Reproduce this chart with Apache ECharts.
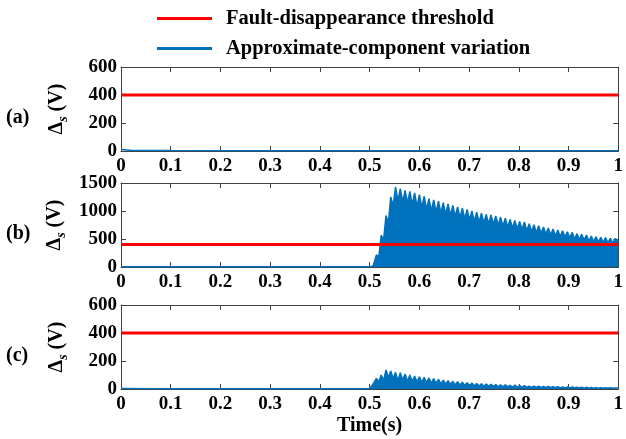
<!DOCTYPE html>
<html>
<head>
<meta charset="utf-8">
<script src="https://cdn.jsdelivr.net/npm/echarts@6/dist/echarts.min.js"></script>
<style>
  html, body { margin: 0; padding: 0; background: #fff; }
  #main { width: 626px; height: 439px; }
</style>
</head>
<body>
<div id="main"></div>
<script>
// legend names
const names = ['Fault-disappearance threshold', 'Approximate-component variation'];
const panelLabels = ['(a)', '(b)', '(c)'];
const threshold = 400;

// y axis ranges per panel [min, max, interval]
const yRanges = [[0, 600, 200], [0, 1500, 500], [0, 600, 200]];

// times of the oscillation peaks after the fault (s)
const peakTimes = [0.5137, 0.5233, 0.5329, 0.5425, 0.5521, 0.5617, 0.5713, 0.5809, 0.5905, 0.6001,
  0.6097, 0.6193, 0.6289, 0.6385, 0.6481, 0.6577, 0.6673, 0.6769, 0.6865, 0.6961,
  0.7057, 0.7153, 0.7249, 0.7345, 0.7441, 0.7537, 0.7633, 0.7729, 0.7825, 0.7921,
  0.8017, 0.8113, 0.8209, 0.8305, 0.8401, 0.8497, 0.8593, 0.8689, 0.8785, 0.8881,
  0.8977, 0.9073, 0.9169, 0.9265, 0.9361, 0.9457, 0.9553, 0.9649, 0.9745, 0.9841, 0.9937];

// (a) stays near zero
const aTimes = [0, 0.01, 0.02, 0.04, 0.1, 0.3, 0.5, 0.7, 1];
const aValues = [10, 8, 6, 4, 3, 2, 2, 2, 2];

// (b)
const bPreTimes = [0, 0.1, 0.3, 0.5, 0.507];
const bPreValues = [6, 4, 4, 4, 20];
const bPeaks = [216, 571, 920, 1251, 1429, 1399, 1370, 1352, 1322, 1293,
  1263, 1222, 1198, 1175, 1151, 1127, 1098, 1074, 1050, 1027,
  1003, 979, 961, 938, 930, 912, 891, 873, 849, 831,
  814, 802, 772, 754, 737, 713, 695, 678, 660, 648,
  630, 618, 595, 583, 571, 553, 541, 530, 524, 512, 506];
const bNotches = [180, 480, 790, 1090, 1180, 1160, 1140, 1110, 1080, 1060,
  1030, 1000, 980, 960, 940, 920, 900, 880, 860, 840,
  820, 800, 785, 770, 760, 745, 730, 710, 695, 680,
  670, 645, 630, 615, 600, 585, 570, 555, 545, 530,
  520, 500, 490, 480, 465, 455, 445, 440, 430, 425];
const bEnd = [1, 470];

// (c)
const cPreTimes = [0, 0.1, 0.3, 0.5, 0.507];
const cPreValues = [3, 2, 2, 2, 36];
const cPeaks = [76, 100, 136, 129, 119, 117, 107, 100, 93, 88,
  83, 79, 74, 69, 64, 60, 55, 52, 48, 45,
  43, 40, 38, 36, 33, 31, 29, 29, 26, 28,
  24, 24, 21, 21, 21, 19, 18, 17, 16, 15,
  14, 14, 13, 12, 12, 11, 10, 10, 9, 9, 8];
const cNotches = [50, 60, 80, 75, 60, 65, 55, 55, 50, 48,
  45, 42, 40, 37, 34, 32, 29, 27, 25, 24,
  22, 21, 20, 19, 17, 16, 15, 15, 14, 14,
  13, 12, 11, 11, 10, 10, 9, 9, 8, 8,
  7, 7, 7, 6, 6, 6, 5, 5, 5, 5];
const cEnd = [1, 8];

const FONT = 'Liberation Serif';
const BLUE = '#0072BD';
const RED = '#ff0000';
const AXIS = '#404040';

function buildWave(preT, preV, peaks, notches, end) {
  const pts = preT.map((t, i) => [t, preV[i]]);
  peaks.forEach((p, i) => {
    pts.push([peakTimes[i], p]);
    if (i < notches.length) pts.push([(peakTimes[i] + peakTimes[i + 1]) / 2, notches[i]]);
  });
  pts.push(end);
  return pts;
}

const blueData = [
  aTimes.map((t, i) => [t, aValues[i]]),
  buildWave(bPreTimes, bPreValues, bPeaks, bNotches, bEnd),
  buildWave(cPreTimes, cPreValues, cPeaks, cNotches, cEnd)
];

const gridTops = [67, 183, 305];
const labelStyle = { fontFamily: FONT, fontWeight: 'bold', fontSize: 19, color: '#000' };

const chart = echarts.init(document.getElementById('main'));

const grids = gridTops.map(top => ({ left: 121, right: 4, top: top, height: 84 }));
const xAxes = [];
const yAxes = [];
const series = [];

gridTops.forEach((top, i) => {
  ['bottom', 'top'].forEach(pos => {
    xAxes.push({
      type: 'value', gridIndex: i, position: pos, min: 0, max: 1, interval: 0.1,
      axisLine: { show: true, onZero: false, lineStyle: { color: AXIS, width: 1 } },
      axisTick: { show: true, inside: true, length: 5, lineStyle: { color: AXIS } },
      splitLine: { show: false },
      axisLabel: Object.assign({ show: pos === 'bottom', margin: 6 }, labelStyle),
      name: (i === 2 && pos === 'bottom') ? 'Time(s)' : '',
      nameLocation: 'middle', nameGap: 27,
      nameTextStyle: { fontFamily: FONT, fontWeight: 'bold', fontSize: 20, color: '#000' }
    });
  });
  ['left', 'right'].forEach(pos => {
    yAxes.push({
      type: 'value', gridIndex: i, position: pos,
      min: yRanges[i][0], max: yRanges[i][1], interval: yRanges[i][2],
      axisLine: { show: true, onZero: false, lineStyle: { color: AXIS, width: 1 } },
      axisTick: { show: true, inside: true, length: 5, lineStyle: { color: AXIS } },
      splitLine: { show: false },
      axisLabel: Object.assign({ show: pos === 'left', margin: 4, padding: [5, 0, 0, 0],
        formatter: v => String(v) }, labelStyle),
      name: pos === 'left' ? '{d|Δ}{s|s}{d| (V)}' : '',
      nameLocation: 'middle', nameGap: 51,
      nameTextStyle: {
        rich: {
          d: { fontFamily: FONT, fontWeight: 'bold', fontSize: 20, color: '#000', lineHeight: 26 },
          s: { fontFamily: FONT, fontWeight: 'bold', fontStyle: 'italic', fontSize: 14, color: '#000',
               lineHeight: 13, verticalAlign: 'bottom' }
        }
      }
    });
  });
  series.push({
    name: names[1], type: 'line', xAxisIndex: 2 * i, yAxisIndex: 2 * i,
    data: blueData[i], showSymbol: false, symbol: 'none',
    lineStyle: { color: BLUE, width: 1.5 }, itemStyle: { color: BLUE },
    areaStyle: i === 0 ? null : { color: BLUE, opacity: 1 },
    z: 2
  });
  series.push({
    name: names[0], type: 'line', xAxisIndex: 2 * i, yAxisIndex: 2 * i,
    data: [[0, threshold], [1, threshold]], showSymbol: false, symbol: 'none',
    lineStyle: { color: RED, width: 3 }, itemStyle: { color: RED },
    z: 3
  });
});

const option = {
  animation: false,
  backgroundColor: '#fff',
  legend: {
    data: names, orient: 'vertical', left: 152, top: 3,
    icon: 'rect', itemWidth: 55, itemHeight: 3, itemGap: 9, selectedMode: false,
    textStyle: { fontFamily: FONT, fontWeight: 'bold', fontSize: 20.5, color: '#000', lineHeight: 20, padding: [0, 0, 0, 9] }
  },
  grid: grids,
  xAxis: xAxes,
  yAxis: yAxes,
  series: series,
  graphic: panelLabels.map((txt, i) => ({
    type: 'text', left: 6, top: gridTops[i] + 41,
    style: { text: txt, font: 'bold 20px "Liberation Serif"', fill: '#000' }
  }))
};

chart.setOption(option);
</script>
</body>
</html>
